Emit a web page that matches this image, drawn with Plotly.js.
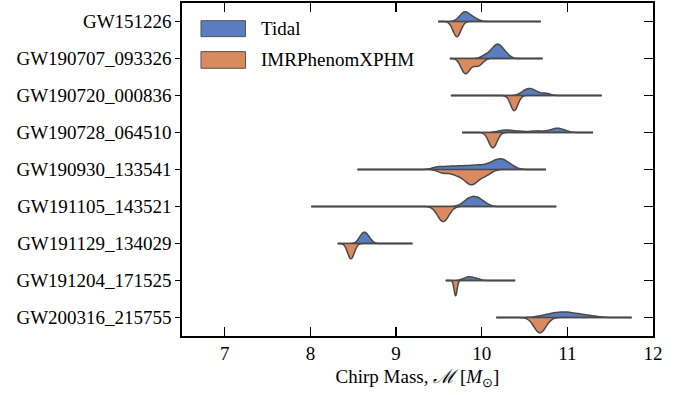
<!DOCTYPE html>
<html>
<head>
<meta charset="utf-8">
<script src="https://cdn.plot.ly/plotly-3.0.1.min.js"></script>
<style>html,body{margin:0;padding:0;background:#fff;}#chart{width:688px;height:395px;}</style>
</head>
<body>
<div id="chart"></div>
<script>
// Events (top to bottom)
var events = ['GW151226','GW190707_093326','GW190720_000836','GW190728_064510','GW190930_133541','GW191105_143521','GW191129_134029','GW191204_171525','GW200316_215755'];

// Extent of each violin's drawn support (thin line), chirp mass
var spanLo = [9.49, 9.63, 9.64, 9.77, 8.55, 8.01, 8.32, 9.58, 10.17];
var spanHi = [10.69, 10.71, 11.40, 11.30, 10.75, 10.87, 9.19, 10.39, 11.75];

// Representative posterior samples (Tidal model)
var tidalSamples = [
  [9.76, 9.79, 9.80, 9.82, 9.86, 9.92],
  [10.05, 10.13, 10.16, 10.18, 10.20, 10.23, 10.28],
  [10.48, 10.53, 10.56, 10.59, 10.64, 10.75],
  [10.22, 10.28, 10.34, 10.45, 10.60, 10.70, 10.82, 10.86, 10.88, 10.92, 10.96],
  [9.50, 9.65, 9.78, 9.90, 10.00, 10.10, 10.16, 10.20, 10.23, 10.27, 10.33],
  [9.82, 9.87, 9.91, 9.95, 10.01],
  [8.59, 8.62, 8.64, 8.68],
  [9.80, 9.84, 9.86, 9.90, 9.95],
  [10.75, 10.85, 10.92, 10.97, 11.03, 11.12, 11.25]
];
var tidalBw = [0.05, 0.05, 0.05, 0.06, 0.07, 0.065, 0.04, 0.045, 0.10];

// Representative posterior samples (IMRPhenomXPHM)
var imrSamples = [
  [9.70, 9.71, 9.72],
  [9.78, 9.80, 9.82, 9.85, 9.93, 9.98],
  [10.37, 10.38, 10.39],
  [10.12, 10.13, 10.14],
  [9.55, 9.68, 9.76, 9.82, 9.86, 9.88, 9.90, 9.94, 10.00, 10.07],
  [9.52, 9.55, 9.58],
  [8.46, 8.47, 8.49],
  [9.69, 9.695, 9.70],
  [10.66, 10.68, 10.70]
];
var imrBw = [0.045, 0.045, 0.042, 0.048, 0.06, 0.06, 0.037, 0.017, 0.068];

var seriesNames = ['Tidal', 'IMRPhenomXPHM'];
var blue = '#597dbf', orange = '#d98b5f', edge = '#4a4a4a';

var traces = [];
events.forEach(function(ev, i) {
  [[tidalSamples[i], tidalBw[i], 'positive', blue, seriesNames[0]],
   [imrSamples[i], imrBw[i], 'negative', orange, seriesNames[1]]].forEach(function(s) {
    traces.push({
      type: 'violin', orientation: 'h', name: s[4],
      x: s[0], y: s[0].map(function(){ return ev; }),
      side: s[2], scalegroup: ev, scalemode: 'width',
      spanmode: 'manual', span: [spanLo[i], spanHi[i]], bandwidth: s[1],
      fillcolor: s[3], line: {color: edge, width: 1.5},
      points: false, box: {visible: false}, meanline: {visible: false},
      hoveron: 'violins', showlegend: false, opacity: 1
    });
  });
  traces.push({
    type: 'scatter', mode: 'lines', x: [spanLo[i], spanHi[i]], y: [ev, ev],
    line: {color: edge, width: 1.5}, hoverinfo: 'skip', showlegend: false
  });
});
traces.push({type: 'scatter', x: [], y: [], yaxis: 'y2', hoverinfo: 'skip', showlegend: false});

var font = {family: 'Liberation Serif, Times New Roman, serif', size: 19, color: '#000'};
var catPos = events.map(function(_, k){ return k; });

var layout = {
  width: 688, height: 395,
  margin: {l: 182, r: 35, t: 3, b: 59},
  paper_bgcolor: '#fff', plot_bgcolor: '#fff',
  font: font,
  violinmode: 'overlay', violingap: 0.18, violingroupgap: 0,
  showlegend: false,
  xaxis: {
    range: [6.5, 12], dtick: 1, tick0: 0,
    ticks: 'inside', ticklen: 9, tickwidth: 1.2, tickcolor: '#000',
    showline: true, linecolor: '#000', linewidth: 1.6, mirror: 'ticks',
    showgrid: false, zeroline: false,
    tickfont: font,
    title: {text: 'Chirp Mass, <i>ℳ</i> [<i>M</i><sub>⊙</sub>]', font: font, standoff: 6}
  },
  yaxis: {
    type: 'category', categoryorder: 'array', categoryarray: events.slice().reverse(),
    range: [-0.5, 8.5],
    ticks: 'outside', ticklen: 5, tickwidth: 1.2, tickcolor: '#000',
    showline: true, linecolor: '#000', linewidth: 1.6, mirror: true,
    showgrid: false, zeroline: false, tickfont: font
  },
  yaxis2: {
    overlaying: 'y', side: 'right', anchor: 'x',
    range: [-0.5, 8.5], tickvals: catPos, showticklabels: false,
    ticks: 'inside', ticklen: 9, tickwidth: 1.2, tickcolor: '#000',
    showline: false, showgrid: false, zeroline: false
  },
  shapes: [
    {type: 'rect', xref: 'paper', yref: 'paper', x0: 0.0403, x1: 0.1348, y0: 0.899, y1: 0.947,
     fillcolor: blue, line: {color: '#555', width: 1}},
    {type: 'rect', xref: 'paper', yref: 'paper', x0: 0.0403, x1: 0.1348, y0: 0.804, y1: 0.854,
     fillcolor: orange, line: {color: '#555', width: 1}}
  ],
  annotations: [
    {xref: 'paper', yref: 'paper', x: 0.1635, y: 0.923, xanchor: 'left', yanchor: 'middle',
     text: seriesNames[0], showarrow: false, font: font},
    {xref: 'paper', yref: 'paper', x: 0.1635, y: 0.829, xanchor: 'left', yanchor: 'middle',
     text: seriesNames[1], showarrow: false, font: font}
  ]
};

Plotly.newPlot('chart', traces, layout, {staticPlot: true, displayModeBar: false});
</script>
</body>
</html>
